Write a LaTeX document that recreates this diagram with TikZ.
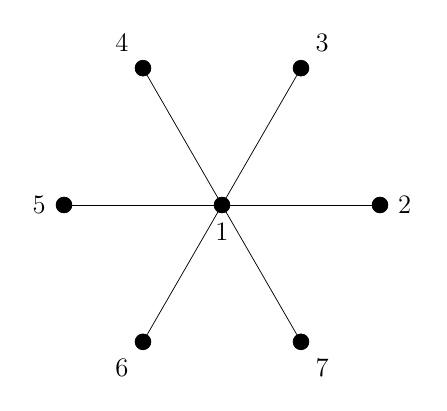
\documentclass[tikz,border=0pt]{standalone}
\usepackage{tikz}
\usetikzlibrary{positioning,calc}

\begin{document}
\begin{tikzpicture}[
    vtx/.style={circle, fill=black, draw=black, inner sep=0pt, minimum size=3mm},
    lbl/.style={font=\fontsize{15}{18}\selectfont, inner sep=1pt}
  ]
  \node[vtx] (v1) at (0,0) {};
  \node[vtx] (v2) at (0:3) {};
  \node[vtx] (v3) at (60:3) {};
  \node[vtx] (v4) at (120:3) {};
  \node[vtx] (v5) at (180:3) {};
  \node[vtx] (v6) at (240:3) {};
  \node[vtx] (v7) at (300:3) {};

  \node[lbl] (l1) at ($(v1)+(0,-0.52)$) {$1$};
  \node[lbl] (l2) at ($(v2)+(0.47,0)$) {$2$};
  \node[lbl] (l3) at ($(v3)+(0.40,0.48)$) {$3$};
  \node[lbl] (l4) at ($(v4)+(-0.40,0.48)$) {$4$};
  \node[lbl] (l5) at ($(v5)+(-0.47,0)$) {$5$};
  \node[lbl] (l6) at ($(v6)+(-0.40,-0.50)$) {$6$};
  \node[lbl] (l7) at ($(v7)+(0.40,-0.50)$) {$7$};

  % spokes from the centre
  \foreach \i in {2,...,7}
    \draw (v1) -- (v\i);

  \path[use as bounding box] (-4.215,-3.911) rectangle (4.272,3.892);
\end{tikzpicture}
\end{document}
